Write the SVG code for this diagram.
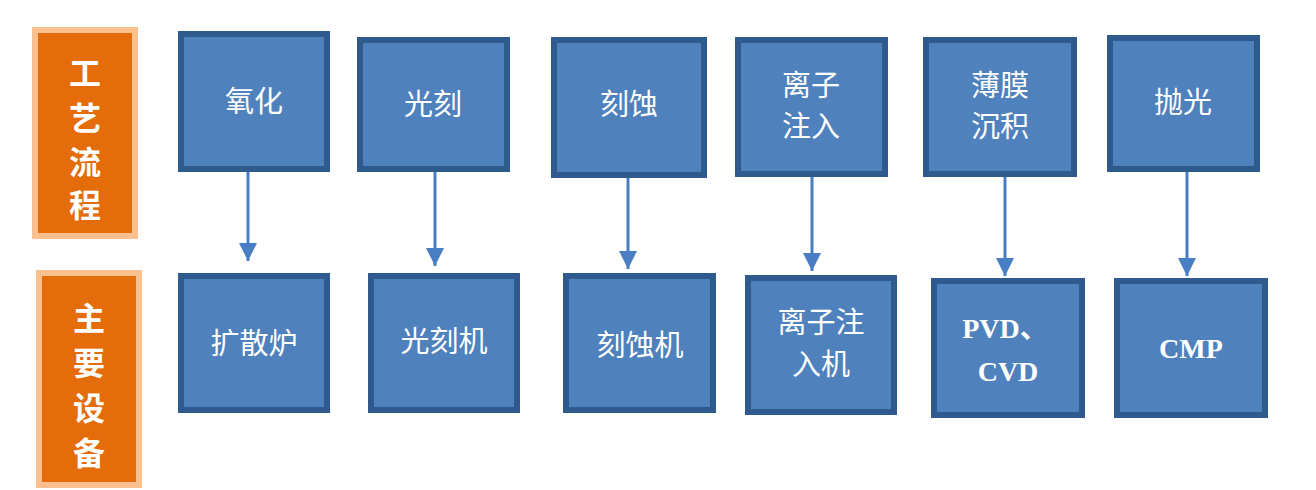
<svg xmlns="http://www.w3.org/2000/svg" width="1316" height="490" viewBox="0 0 1316 490">
<style>
.o{fill:#E46C0A;stroke:#FAC090;stroke-width:6}
.b{fill:#4F81BD;stroke:#2F5A8E;stroke-width:6}
text{fill:#fff;font-family:"Noto Sans CJK SC","Liberation Sans",sans-serif;font-size:29px;text-anchor:middle}
.v{font-weight:bold;font-size:32px}
.e{font-family:"Liberation Serif","Noto Sans CJK SC",serif;font-weight:bold;font-size:28px}
.c line{stroke:#4A7EC4;stroke-width:3}
</style>
<defs><marker id="a" viewBox="0 0 10 10" refX="9" refY="5" markerWidth="8" markerHeight="7" markerUnits="userSpaceOnUse" orient="auto" preserveAspectRatio="none"><path d="M0,0L10,5L0,10Z" fill="#4A7EC4"/></marker>
<marker id="m" viewBox="0 0 10 10" refX="10" refY="5" markerWidth="20" markerHeight="18" markerUnits="userSpaceOnUse" orient="auto"><path d="M0,0L10,5L0,10Z" fill="#4A7EC4"/></marker></defs>
<rect width="1316" height="490" fill="#fff"/>
<g id="l1"><rect class="o" x="35" y="30" width="100" height="206"/><text class="v" x="85" y="85">工</text><text class="v" x="85" y="130">艺</text><text class="v" x="85" y="174">流</text><text class="v" x="85" y="217">程</text></g>
<g id="l2"><rect class="o" x="39" y="273" width="100" height="212"/><text class="v" x="89" y="330">主</text><text class="v" x="89" y="375">要</text><text class="v" x="89" y="420">设</text><text class="v" x="89" y="465">备</text></g>
<g id="t1"><rect class="b" x="181" y="34" width="146" height="135"/><text x="254" y="112">氧化</text></g>
<g id="t2"><rect class="b" x="360" y="40" width="147" height="129"/><text x="433" y="115">光刻</text></g>
<g id="t3"><rect class="b" x="554" y="40" width="150" height="135"/><text x="629" y="115">刻蚀</text></g>
<g id="t4"><rect class="b" x="738" y="40" width="147" height="134"/><text x="811" y="96">离子</text><text x="811" y="137">注入</text></g>
<g id="t5"><rect class="b" x="926" y="40" width="148" height="134"/><text x="1000" y="96">薄膜</text><text x="1000" y="137">沉积</text></g>
<g id="t6"><rect class="b" x="1110" y="38" width="147" height="131"/><text x="1183" y="113">抛光</text></g>
<g id="b1"><rect class="b" x="181" y="276" width="146" height="134"/><text x="254" y="354">扩散炉</text></g>
<g id="b2"><rect class="b" x="371" y="276" width="146" height="134"/><text x="444" y="352">光刻机</text></g>
<g id="b3"><rect class="b" x="566" y="276" width="147" height="134"/><text x="640" y="356">刻蚀机</text></g>
<g id="b4"><rect class="b" x="748" y="278" width="146" height="134"/><text x="821" y="333">离子注</text><text x="821" y="375">入机</text></g>
<g id="b5"><rect class="b" x="934" y="281" width="148" height="134"/><text class="e" x="1005" y="338">PVD、</text><text class="e" x="1008" y="381">CVD</text></g>
<g id="b6"><rect class="b" x="1117" y="281" width="148" height="134"/><text class="e" x="1191" y="358">CMP</text></g>
<g class="c">
<line x1="248" y1="172" x2="248" y2="261" marker-end="url(#m)"/>
<line x1="435" y1="172" x2="435" y2="266" marker-end="url(#m)"/>
<line x1="628" y1="178" x2="628" y2="269" marker-end="url(#m)"/>
<line x1="812" y1="177" x2="812" y2="271" marker-end="url(#m)"/>
<line x1="1005" y1="177" x2="1005" y2="276" marker-end="url(#m)"/>
<line x1="1187" y1="172" x2="1187" y2="276" marker-end="url(#m)"/>
</g>
</svg>
